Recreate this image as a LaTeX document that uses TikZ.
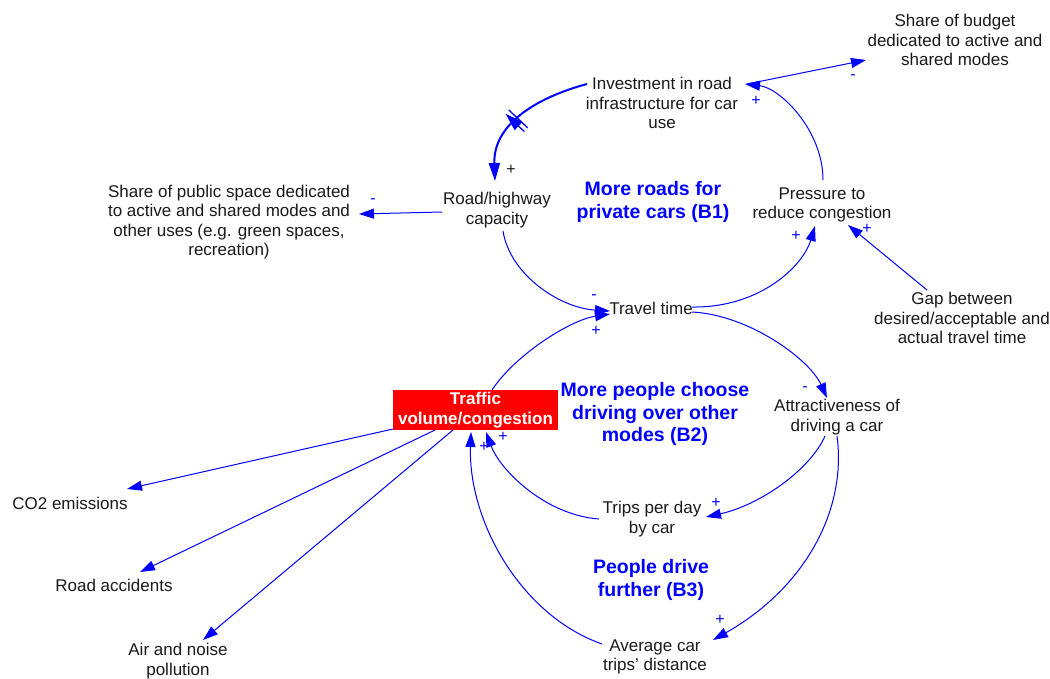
\documentclass[tikz,border=0pt]{standalone}
\usepackage{fontspec}
\setmainfont{Liberation Sans}
\usetikzlibrary{arrows.meta,calc,decorations.markings}
\definecolor{linkblue}{RGB}{0,0,255}
\definecolor{boxred}{RGB}{255,0,0}
\definecolor{ink}{RGB}{25,25,25}
\begin{document}
\begin{tikzpicture}[x=1pt,y=-1pt,
  var/.style={align=center,font=\fontsize{17}{19.5}\selectfont,inner sep=0pt,text=ink},
  loopname/.style={align=center,font=\fontsize{19.5}{22.5}\selectfont\bfseries,text=linkblue,inner sep=0pt},
  stock/.style={align=center,font=\fontsize{17}{19.5}\selectfont\bfseries,text=white,fill=boxred,
    minimum width=165pt,minimum height=40pt,inner sep=0pt},
  link/.style={draw=linkblue,line width=1pt,-{Triangle[length=15pt,width=10pt]}},
  boldlink/.style={draw=linkblue,line width=2pt,-{Triangle[length=18pt,width=11pt]}},
  delaymark/.style={postaction={decorate,decoration={markings,mark=at position 0.55 with
    {\draw[linkblue,line width=1.3pt] (-2.5,-13)--(-2.5,13) (2.5,-13)--(2.5,13);}}}},
  pol/.style={font=\fontsize{16}{16}\selectfont,text=linkblue,inner sep=0pt}
]
\useasboundingbox (0,0) rectangle (1050,678);

% variables
\node[var] (inv) at (662,103) {Investment in road\\infrastructure for car\\use};
\node[var] (budget) at (955,40) {Share of budget\\dedicated to active and\\shared modes};
\node[var] (cap) at (497,210) {Road/highway\\capacity};
\node[var] (space) at (229,222) {Share of public space dedicated\\to active and shared modes and\\other uses (e.g. green spaces,\\recreation)};
\node[var] (press) at (822,205) {Pressure to\\reduce congestion};
\node[var] (tt) at (651,308) {Travel time};
\node[var] (gap) at (962,318) {Gap between\\desired/acceptable and\\actual travel time};
\node[stock] (traffic) at (475.5,410) {Traffic\\volume/congestion};
\node[var] (att) at (837,417) {Attractiveness of\\driving a car};
\node[var] (trips) at (652,519) {Trips per day\\by car};
\node[var] (avg) at (655,657) {Average car\\trips' distance};
\node[var] (co2) at (70,503) {CO2 emissions};
\node[var] (acc) at (114,585) {Road accidents};
\node[var] (air) at (178,661) {Air and noise\\pollution};

% loop names
\node[loopname] (b1) at (653,202) {More roads for\\private cars (B1)};
\node[loopname] (b2) at (655,414) {More people choose\\driving over other\\modes (B2)};
\node[loopname] (b3) at (651,580) {People drive\\further (B3)};

% causal links
\draw[boldlink,delaymark] ($(inv)+(-75,-19)$) .. controls +(-52,14) and +(-2,-56) .. ($(cap)+(-2,-29)$);
\draw[link] ($(press)+(1,-25)$) .. controls +(0,-50) and +(35,4) .. ($(inv)+(83,-19)$);
\draw[link] ($(inv)+(85,-19)$) -- ($(budget)+(-89,20)$);
\draw[link] ($(cap)+(-55,2)$) -- ($(space)+(130,-8)$);
\draw[link] ($(cap)+(6,21)$) .. controls +(7,44) and +(-50,-3) .. ($(tt)+(-41,3)$);
\draw[link] ($(tt)+(41,-1)$) .. controls +(68,1) and +(-12,40) .. ($(press)+(-7,21)$);
\draw[link] ($(gap)+(-35,-28)$) -- ($(press)+(26,20)$);
\draw[link] ($(tt)+(41,4)$) .. controls +(58,3) and +(-17,-38) .. ($(att)+(-10,-19)$);
\draw[link] ($(traffic)+(16.5,-20)$) .. controls +(23,-35) and +(-40,6) .. ($(tt)+(-41,6)$);
\draw[link] ($(att)+(-12,19)$) .. controls +(-15,34) and +(54,-12) .. ($(trips)+(54,-2)$);
\draw[link] ($(att)+(0,19)$) .. controls +(10,74) and +(92,-52) .. ($(avg)+(58,-17)$);
\draw[link] ($(trips)+(-53,0)$) .. controls +(-54,-4) and +(14,38) .. ($(traffic)+(10.5,22)$);
\draw[link] ($(avg)+(-53,-13)$) .. controls +(-82,-29) and +(-3,88) .. ($(traffic)+(-4.5,22)$);
\draw[link] ($(traffic)+(-82.5,19)$) -- ($(co2)+(57,-14)$);
\draw[link] ($(traffic)+(-40.5,20)$) -- ($(acc)+(26,-13)$);
\draw[link] ($(traffic)+(-22.5,20)$) -- ($(air)+(25,-21)$);

% link polarities
\node[pol,text=ink] (s1) at (511,170) {+};
\node[pol] (s2) at (756,101) {+};
\node[pol] (s3) at (853,77) {-};
\node[pol] (s4) at (373,201) {-};
\node[pol] (s5) at (594,297) {-};
\node[pol] (s6) at (796,236) {+};
\node[pol] (s7) at (867,229) {+};
\node[pol] (s8) at (805,389) {-};
\node[pol] (s9) at (596,331) {+};
\node[pol] (s10) at (716,503) {+};
\node[pol] (s11) at (720,620) {+};
\node[pol] (s12) at (503,437) {+};
\node[pol] (s13) at (484,447) {+};
\end{tikzpicture}
\end{document}
